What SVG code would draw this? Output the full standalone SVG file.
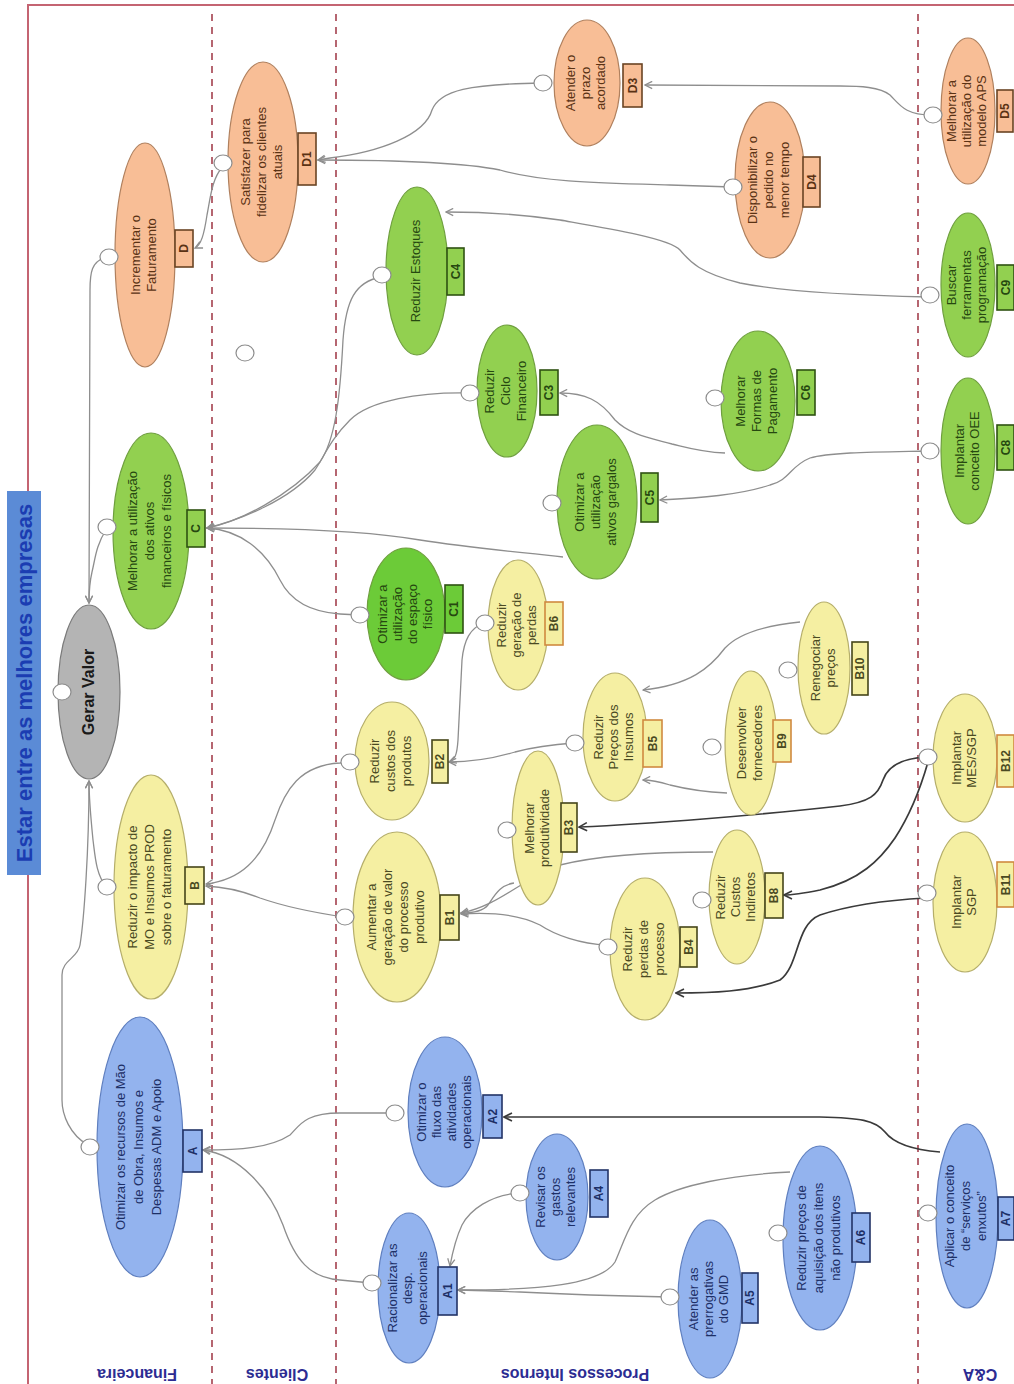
<svg xmlns="http://www.w3.org/2000/svg" width="1014" height="1384" viewBox="0 0 1014 1384">
<style>
  .frame{fill:none;stroke:#c46472;stroke-width:2}
  .lane{stroke:#a4404e;stroke-width:1.6;stroke-dasharray:7 6}
  .lanet{font-family:"Liberation Sans",Arial,sans-serif;font-size:16px;font-weight:bold;fill:#2c2c92;text-anchor:middle;dominant-baseline:central}
  .c{fill:none;stroke:#8e8e8e;stroke-width:1.3;marker-end:url(#ag)}
  .d{fill:none;stroke:#3a3a3a;stroke-width:1.7;marker-end:url(#ad)}
  .body{stroke-width:1.2}
  .tag{stroke-width:1.6}
  .port{fill:#fff;stroke:#8c8c8c;stroke-width:1.2}
  .t{font-family:"Liberation Sans",Arial,sans-serif;font-size:13px;text-anchor:middle;dominant-baseline:central}
  .k{font-size:12px;font-weight:bold}
  .fa .body{fill:#93b3ee;stroke:#5f7fbf}
  .fa .tag{fill:#93b3ee;stroke:#223366}
  .fa text{fill:#1d2f66}
  .fb .body{fill:#f5efa2;stroke:#b5ae6a}
  .fb .tag{fill:#f5efa2;stroke:#45451a}
  .fb text{fill:#4a4a22}
  .fc .body{fill:#92d050;stroke:#6f9f3f}
  .fc .tag{fill:#92d050;stroke:#2f5212}
  .fc text{fill:#264810}
  .fd .body{fill:#f8be96;stroke:#b0805e}
  .fd .tag{fill:#f8be96;stroke:#6a4424}
  .fd text{fill:#5a3214}
  .fg .body{fill:#b4b4b4;stroke:#7a7a7a}
  .fg text{fill:#1a1a1a;font-size:16px;font-weight:bold}
  .fb .tag.o{stroke:#d08a40}
  #n-C1 .body{fill:#6ccb38}
  #n-C1 .tag{fill:#6ccb38}
</style>
<defs>
  <marker id="ag" viewBox="0 0 10 10" refX="9" refY="5" markerWidth="9" markerHeight="9" markerUnits="userSpaceOnUse" orient="auto">
    <path d="M1,1 L9,5 L1,9" fill="none" stroke="#8e8e8e" stroke-width="1.4"/>
  </marker>
  <marker id="ad" viewBox="0 0 10 10" refX="9" refY="5" markerWidth="10" markerHeight="10" markerUnits="userSpaceOnUse" orient="auto">
    <path d="M1,1 L9,5 L1,9" fill="none" stroke="#3a3a3a" stroke-width="1.6"/>
  </marker>
</defs>

<rect width="1014" height="1384" fill="#fff"/>
<rect class="frame" x="28" y="5" width="1000" height="1400"/>

<!-- perspective lanes -->
<g id="lanes">
  <line class="lane" x1="212" y1="14" x2="212" y2="1384"/>
  <line class="lane" x1="336" y1="14" x2="336" y2="1384"/>
  <line class="lane" x1="918" y1="14" x2="918" y2="1384"/>
  <text class="lanet" x="137" y="1374" transform="rotate(180 137 1374)">Financeira</text>
  <text class="lanet" x="277" y="1374" transform="rotate(180 277 1374)">Clientes</text>
  <text class="lanet" x="575" y="1374" transform="rotate(180 575 1374)">Processos Internos</text>
  <text class="lanet" x="980" y="1374" transform="rotate(180 980 1374)">C&amp;A</text>
</g>

<!-- title banner -->
<g id="title">
  <rect x="7" y="491" width="34" height="384" fill="#5b8bd6"/>
  <text x="24" y="683" transform="rotate(-90 24 683)" font-family="'Liberation Sans',Arial,sans-serif" font-size="22" font-weight="bold" fill="#1b3db2" text-anchor="middle" dominant-baseline="central">Estar entre as melhores empresas</text>
</g>

<!-- cause-effect connectors -->
<g id="connectors">
  <path class="c" d="M104,258 C92,262 90,272 90,290 L89,603"/>
  <path class="c" d="M106,530 C96,545 95,560 92,572 C89,585 89,592 89,603"/>
  <path class="c" d="M106,886 C96,875 95,855 93,840 C90,810 89,795 89,781"/>
  <path class="c" d="M88,1145 C70,1135 62,1115 62,1100 L62,975 C62,960 78,958 80,945 C84,920 89,850 89,781"/>
  <path class="c" d="M222,168 C212,178 210,200 207,215 C204,235 201,245 195,248"/>
  <path class="c" d="M542,83 C470,84 440,90 432,110 C425,135 380,152 330,158 L318,160"/>
  <path class="c" d="M732,187 L670,185 C600,183 540,182 500,170 C460,162 380,160 318,160"/>
  <path class="c" d="M932,115 C905,115 900,105 890,95 C880,87 860,86 840,86 L645,85"/>
  <path class="c" d="M929,297 C880,296 790,293 740,283 C700,273 690,262 680,250 C670,238 600,227 560,220 C520,214 480,212 446,212"/>
  <path class="c" d="M381,277 C355,282 346,300 343,340 C340,400 335,440 320,462 C290,495 240,522 207,528"/>
  <path class="c" d="M469,393 C420,392 370,400 350,420 C330,440 325,455 315,470 C290,500 240,520 207,528"/>
  <path class="c" d="M563,557 C520,552 470,548 420,540 C380,533 320,528 207,528"/>
  <path class="c" d="M359,615 L340,614 C310,612 290,600 280,580 C265,550 240,530 207,528"/>
  <path class="c" d="M725,453 C700,452 685,447 672,444 C650,438 630,435 615,420 C600,400 585,393 560,393"/>
  <path class="c" d="M929,451 C880,452 830,452 810,458 C790,466 790,480 770,485 C740,495 700,498 660,500"/>
  <path class="c" d="M349,762 L340,763 C300,765 285,790 275,820 C262,860 240,880 206,884"/>
  <path class="c" d="M344,917 C310,912 280,905 260,898 C240,890 225,887 206,886"/>
  <path class="c" d="M484,623 C470,628 464,640 462,660 L458,740 C457,755 455,760 449,762"/>
  <path class="c" d="M574,743 C545,745 530,748 515,752 C495,758 470,762 449,762"/>
  <path class="c" d="M800,622 C770,625 740,632 725,648 C710,668 690,685 643,690"/>
  <path class="c" d="M727,793 C705,792 690,790 670,785 C660,782 650,780 643,780"/>
  <path class="c" d="M514,883 C500,885 495,895 488,905 C484,910 475,913 461,913"/>
  <path class="c" d="M713,852 C650,852 600,855 560,865 C520,880 500,905 461,913"/>
  <path class="c" d="M607,945 C580,944 555,935 540,925 C520,915 490,912 461,914"/>
  <path class="c" d="M394,1113 L340,1113 C305,1113 300,1125 290,1135 C270,1148 240,1150 203,1150"/>
  <path class="c" d="M371,1283 L340,1280 C310,1278 295,1260 283,1225 C270,1190 240,1155 203,1150"/>
  <path class="c" d="M519,1193 C490,1195 470,1210 462,1225 C455,1240 452,1255 450,1266"/>
  <path class="c" d="M669,1297 C620,1296 560,1294 520,1292 C490,1291 470,1290 458,1290"/>
  <path class="c" d="M790,1172 C730,1175 680,1185 655,1200 C630,1215 625,1240 615,1262 C600,1285 540,1290 458,1290"/>
  <path class="d" d="M927,757 C905,758 888,765 883,780 C878,795 870,802 840,806 C760,815 650,824 579,827"/>
  <path class="d" d="M928,762 C920,790 910,815 895,838 C880,860 860,880 820,890 C800,894 790,895 784,895"/>
  <path class="d" d="M926,898 C890,900 850,905 820,915 C795,925 800,965 780,980 C750,992 710,993 676,993"/>
  <path class="d" d="M940,1152 C915,1150 895,1145 885,1132 C875,1120 860,1118 820,1117 L504,1117"/>
</g>

<!-- unattached port -->
<ellipse class="port" cx="245" cy="353" rx="9" ry="8"/>

<!-- objectives -->
<g id="n-GV" class="fg">
  <ellipse class="body" cx="89" cy="692" rx="31" ry="87"/>
  <ellipse class="port" cx="62" cy="692" rx="9" ry="8"/>
  <text class="t" x="89" y="691" transform="rotate(-90 89 692)">Gerar Valor</text>
</g>

<g id="n-D" class="fd">
  <ellipse class="body" cx="145" cy="255" rx="30" ry="112"/>
  <ellipse class="port" cx="109" cy="257" rx="9" ry="8"/>
  <rect class="tag" x="175" y="230" width="18" height="37"/>
  <text class="t" x="145" y="253" transform="rotate(-90 145 255)"><tspan x="145" dy="-8">Incrementar o</tspan><tspan x="145" dy="16">Faturamento</tspan></text>
  <text class="t k" x="184" y="248.5" transform="rotate(-90 184 248.5)">D</text>
</g>

<g id="n-D1" class="fd">
  <ellipse class="body" cx="263" cy="162" rx="35" ry="100"/>
  <ellipse class="port" cx="223" cy="163" rx="9" ry="8"/>
  <rect class="tag" x="298" y="133" width="18" height="52"/>
  <text class="t" x="263" y="160" transform="rotate(-90 263 162)"><tspan x="263" dy="-16">Satisfazer para</tspan><tspan x="263" dy="16">fidelizar os clientes</tspan><tspan x="263" dy="16">atuais</tspan></text>
  <text class="t k" x="307" y="159" transform="rotate(-90 307 159)">D1</text>
</g>

<g id="n-D3" class="fd">
  <ellipse class="body" cx="587" cy="83" rx="33" ry="63"/>
  <ellipse class="port" cx="543" cy="83" rx="9" ry="8"/>
  <rect class="tag" x="623" y="64" width="19" height="43"/>
  <text class="t" x="587" y="81" transform="rotate(-90 587 83)"><tspan x="587" dy="-15">Atender o</tspan><tspan x="587" dy="15">prazo</tspan><tspan x="587" dy="15">acordado</tspan></text>
  <text class="t k" x="632.5" y="85.5" transform="rotate(-90 632.5 85.5)">D3</text>
</g>

<g id="n-D4" class="fd">
  <ellipse class="body" cx="770" cy="180" rx="35" ry="78"/>
  <ellipse class="port" cx="733" cy="187" rx="9" ry="8"/>
  <rect class="tag" x="803" y="157" width="17" height="50"/>
  <text class="t" x="770" y="178" transform="rotate(-90 770 180)"><tspan x="770" dy="-16">Disponibilizar o</tspan><tspan x="770" dy="16">pedido no</tspan><tspan x="770" dy="16">menor tempo</tspan></text>
  <text class="t k" x="811.5" y="182" transform="rotate(-90 811.5 182)">D4</text>
</g>

<g id="n-D5" class="fd">
  <ellipse class="body" cx="968" cy="111" rx="27" ry="73"/>
  <ellipse class="port" cx="933" cy="115" rx="9" ry="8"/>
  <rect class="tag" x="997" y="90" width="16" height="42"/>
  <text class="t" x="968" y="109" transform="rotate(-90 968 111)"><tspan x="968" dy="-15">Melhorar a</tspan><tspan x="968" dy="15">utilização do</tspan><tspan x="968" dy="15">modelo APS</tspan></text>
  <text class="t k" x="1005" y="111" transform="rotate(-90 1005 111)">D5</text>
</g>

<g id="n-C" class="fc">
  <ellipse class="body" cx="151" cy="531" rx="38" ry="98"/>
  <ellipse class="port" cx="107" cy="527" rx="9" ry="8"/>
  <rect class="tag" x="187" y="510" width="18" height="37"/>
  <text class="t" x="151" y="529" transform="rotate(-90 151 531)"><tspan x="151" dy="-17">Melhorar a utilização</tspan><tspan x="151" dy="17">dos ativos</tspan><tspan x="151" dy="17">financeiros e físicos</tspan></text>
  <text class="t k" x="196" y="528.5" transform="rotate(-90 196 528.5)">C</text>
</g>

<g id="n-C4" class="fc">
  <ellipse class="body" cx="417" cy="271" rx="31" ry="84"/>
  <ellipse class="port" cx="382" cy="275" rx="9" ry="8"/>
  <rect class="tag" x="447" y="248" width="17" height="47"/>
  <text class="t" x="417" y="269" transform="rotate(-90 417 271)">Reduzir Estoques</text>
  <text class="t k" x="455.5" y="271.5" transform="rotate(-90 455.5 271.5)">C4</text>
</g>

<g id="n-C3" class="fc">
  <ellipse class="body" cx="507" cy="391" rx="30" ry="66"/>
  <ellipse class="port" cx="470" cy="393" rx="9" ry="8"/>
  <rect class="tag" x="540" y="370" width="18" height="45"/>
  <text class="t" x="507" y="389" transform="rotate(-90 507 391)"><tspan x="507" dy="-16">Reduzir</tspan><tspan x="507" dy="16">Ciclo</tspan><tspan x="507" dy="16">Financeiro</tspan></text>
  <text class="t k" x="549" y="392.5" transform="rotate(-90 549 392.5)">C3</text>
</g>

<g id="n-C6" class="fc">
  <ellipse class="body" cx="758" cy="401" rx="37" ry="70"/>
  <ellipse class="port" cx="715" cy="398" rx="9" ry="8"/>
  <rect class="tag" x="797" y="370" width="18" height="45"/>
  <text class="t" x="758" y="399" transform="rotate(-90 758 401)"><tspan x="758" dy="-16">Melhorar</tspan><tspan x="758" dy="16">Formas de</tspan><tspan x="758" dy="16">Pagamento</tspan></text>
  <text class="t k" x="806" y="392.5" transform="rotate(-90 806 392.5)">C6</text>
</g>

<g id="n-C5" class="fc">
  <ellipse class="body" cx="597" cy="502" rx="40" ry="77"/>
  <ellipse class="port" cx="552" cy="503" rx="9" ry="8"/>
  <rect class="tag" x="641" y="473" width="17" height="49"/>
  <text class="t" x="597" y="500" transform="rotate(-90 597 502)"><tspan x="597" dy="-16">Otimizar a</tspan><tspan x="597" dy="16">utilização</tspan><tspan x="597" dy="16">ativos gargalos</tspan></text>
  <text class="t k" x="649.5" y="497.5" transform="rotate(-90 649.5 497.5)">C5</text>
</g>

<g id="n-C1" class="fc">
  <ellipse class="body" cx="406" cy="614" rx="39" ry="66"/>
  <ellipse class="port" cx="360" cy="615" rx="9" ry="8"/>
  <rect class="tag" x="445" y="585" width="18" height="48"/>
  <text class="t" x="406" y="612" transform="rotate(-90 406 614)"><tspan x="406" dy="-22.5">Otimizar a</tspan><tspan x="406" dy="15">utilização</tspan><tspan x="406" dy="15">do espaço</tspan><tspan x="406" dy="15">físico</tspan></text>
  <text class="t k" x="454" y="609" transform="rotate(-90 454 609)">C1</text>
</g>

<g id="n-C9" class="fc">
  <ellipse class="body" cx="968" cy="285" rx="27" ry="72"/>
  <ellipse class="port" cx="930" cy="295" rx="9" ry="8"/>
  <rect class="tag" x="997" y="265" width="17" height="45"/>
  <text class="t" x="968" y="283" transform="rotate(-90 968 285)"><tspan x="968" dy="-15">Buscar</tspan><tspan x="968" dy="15">ferramentas</tspan><tspan x="968" dy="15">programação</tspan></text>
  <text class="t k" x="1005.5" y="287.5" transform="rotate(-90 1005.5 287.5)">C9</text>
</g>

<g id="n-C8" class="fc">
  <ellipse class="body" cx="968" cy="451" rx="27" ry="73"/>
  <ellipse class="port" cx="930" cy="451" rx="9" ry="8"/>
  <rect class="tag" x="997" y="425" width="17" height="45"/>
  <text class="t" x="968" y="449" transform="rotate(-90 968 451)"><tspan x="968" dy="-7.5">Implantar</tspan><tspan x="968" dy="15">conceito OEE</tspan></text>
  <text class="t k" x="1005.5" y="447.5" transform="rotate(-90 1005.5 447.5)">C8</text>
</g>

<g id="n-B" class="fb">
  <ellipse class="body" cx="151" cy="887" rx="37" ry="112"/>
  <ellipse class="port" cx="107" cy="887" rx="9" ry="8"/>
  <rect class="tag" x="185" y="867" width="19" height="37"/>
  <text class="t" x="151" y="885" transform="rotate(-90 151 887)"><tspan x="151" dy="-17">Reduzir o impacto de</tspan><tspan x="151" dy="17">MO e Insumos PROD</tspan><tspan x="151" dy="17">sobre o faturamento</tspan></text>
  <text class="t k" x="194.5" y="885.5" transform="rotate(-90 194.5 885.5)">B</text>
</g>

<g id="n-B2" class="fb">
  <ellipse class="body" cx="392" cy="761" rx="37" ry="59"/>
  <ellipse class="port" cx="350" cy="762" rx="9" ry="8"/>
  <rect class="tag" x="432" y="740" width="16" height="43"/>
  <text class="t" x="392" y="759" transform="rotate(-90 392 761)"><tspan x="392" dy="-16">Reduzir</tspan><tspan x="392" dy="16">custos dos</tspan><tspan x="392" dy="16">produtos</tspan></text>
  <text class="t k" x="440" y="761.5" transform="rotate(-90 440 761.5)">B2</text>
</g>

<g id="n-B6" class="fb">
  <ellipse class="body" cx="518" cy="625" rx="30" ry="65"/>
  <ellipse class="port" cx="485" cy="623" rx="9" ry="8"/>
  <rect class="tag o" x="545" y="602" width="18" height="43"/>
  <text class="t" x="518" y="623" transform="rotate(-90 518 625)"><tspan x="518" dy="-15">Reduzir</tspan><tspan x="518" dy="15">geração de</tspan><tspan x="518" dy="15">perdas</tspan></text>
  <text class="t k" x="554" y="623.5" transform="rotate(-90 554 623.5)">B6</text>
</g>

<g id="n-B5" class="fb">
  <ellipse class="body" cx="615" cy="737" rx="32" ry="64"/>
  <ellipse class="port" cx="575" cy="743" rx="9" ry="8"/>
  <rect class="tag o" x="643" y="720" width="19" height="47"/>
  <text class="t" x="615" y="735" transform="rotate(-90 615 737)"><tspan x="615" dy="-15">Reduzir</tspan><tspan x="615" dy="15">Preços dos</tspan><tspan x="615" dy="15">Insumos</tspan></text>
  <text class="t k" x="652.5" y="743.5" transform="rotate(-90 652.5 743.5)">B5</text>
</g>

<g id="n-B3" class="fb">
  <ellipse class="body" cx="538" cy="828" rx="26" ry="77"/>
  <ellipse class="port" cx="507" cy="830" rx="9" ry="8"/>
  <rect class="tag" x="561" y="803" width="16" height="49"/>
  <text class="t" x="538" y="826" transform="rotate(-90 538 828)"><tspan x="538" dy="-7.5">Melhorar</tspan><tspan x="538" dy="15">produtividade</tspan></text>
  <text class="t k" x="569" y="827.5" transform="rotate(-90 569 827.5)">B3</text>
</g>

<g id="n-B1" class="fb">
  <ellipse class="body" cx="397" cy="917" rx="44" ry="85"/>
  <ellipse class="port" cx="345" cy="917" rx="9" ry="8"/>
  <rect class="tag" x="440" y="895" width="19" height="45"/>
  <text class="t" x="397" y="915" transform="rotate(-90 397 917)"><tspan x="397" dy="-24">Aumentar a</tspan><tspan x="397" dy="16">geração de valor</tspan><tspan x="397" dy="16">do processo</tspan><tspan x="397" dy="16">produtivo</tspan></text>
  <text class="t k" x="449.5" y="917.5" transform="rotate(-90 449.5 917.5)">B1</text>
</g>

<g id="n-B4" class="fb">
  <ellipse class="body" cx="645" cy="949" rx="35" ry="71"/>
  <ellipse class="port" cx="608" cy="947" rx="9" ry="8"/>
  <rect class="tag" x="680" y="927" width="17" height="40"/>
  <text class="t" x="645" y="947" transform="rotate(-90 645 949)"><tspan x="645" dy="-16">Reduzir</tspan><tspan x="645" dy="16">perdas de</tspan><tspan x="645" dy="16">processo</tspan></text>
  <text class="t k" x="688.5" y="947" transform="rotate(-90 688.5 947)">B4</text>
</g>

<g id="n-B8" class="fb">
  <ellipse class="body" cx="737" cy="897" rx="28" ry="67"/>
  <ellipse class="port" cx="702" cy="900" rx="9" ry="8"/>
  <rect class="tag" x="765" y="873" width="18" height="45"/>
  <text class="t" x="737" y="895" transform="rotate(-90 737 897)"><tspan x="737" dy="-15">Reduzir</tspan><tspan x="737" dy="15">Custos</tspan><tspan x="737" dy="15">Indiretos</tspan></text>
  <text class="t k" x="774" y="895.5" transform="rotate(-90 774 895.5)">B8</text>
</g>

<g id="n-B9" class="fb">
  <ellipse class="body" cx="751" cy="743" rx="26" ry="72"/>
  <ellipse class="port" cx="712" cy="747" rx="9" ry="8"/>
  <rect class="tag o" x="773" y="720" width="18" height="42"/>
  <text class="t" x="751" y="741" transform="rotate(-90 751 743)"><tspan x="751" dy="-8">Desenvolver</tspan><tspan x="751" dy="16">fornecedores</tspan></text>
  <text class="t k" x="782" y="741" transform="rotate(-90 782 741)">B9</text>
</g>

<g id="n-B10" class="fb">
  <ellipse class="body" cx="824" cy="668" rx="26" ry="66"/>
  <ellipse class="port" cx="788" cy="670" rx="9" ry="8"/>
  <rect class="tag" x="852" y="642" width="16" height="53"/>
  <text class="t" x="824" y="666" transform="rotate(-90 824 668)"><tspan x="824" dy="-7.5">Renegociar</tspan><tspan x="824" dy="15">preços</tspan></text>
  <text class="t k" x="860" y="668.5" transform="rotate(-90 860 668.5)">B10</text>
</g>

<g id="n-B12" class="fb">
  <ellipse class="body" cx="965" cy="758" rx="32" ry="64"/>
  <ellipse class="port" cx="928" cy="757" rx="9" ry="8"/>
  <rect class="tag o" x="997" y="735" width="17" height="52"/>
  <text class="t" x="965" y="756" transform="rotate(-90 965 758)"><tspan x="965" dy="-7.5">Implantar</tspan><tspan x="965" dy="15">MES/SGP</tspan></text>
  <text class="t k" x="1005.5" y="761" transform="rotate(-90 1005.5 761)">B12</text>
</g>

<g id="n-B11" class="fb">
  <ellipse class="body" cx="965" cy="902" rx="32" ry="70"/>
  <ellipse class="port" cx="927" cy="893" rx="9" ry="8"/>
  <rect class="tag o" x="997" y="862" width="17" height="45"/>
  <text class="t" x="965" y="900" transform="rotate(-90 965 902)"><tspan x="965" dy="-7.5">Implantar</tspan><tspan x="965" dy="15">SGP</tspan></text>
  <text class="t k" x="1005.5" y="884.5" transform="rotate(-90 1005.5 884.5)">B11</text>
</g>

<g id="n-A" class="fa">
  <ellipse class="body" cx="140" cy="1147" rx="43" ry="130"/>
  <ellipse class="port" cx="90" cy="1147" rx="9" ry="8"/>
  <rect class="tag" x="183" y="1130" width="19" height="42"/>
  <text class="t" x="140" y="1145" transform="rotate(-90 140 1147)"><tspan x="140" dy="-18">Otimizar os recursos de Mão</tspan><tspan x="140" dy="18">de Obra, Insumos e</tspan><tspan x="140" dy="18">Despesas ADM e Apoio</tspan></text>
  <text class="t k" x="192.5" y="1151" transform="rotate(-90 192.5 1151)">A</text>
</g>

<g id="n-A2" class="fa">
  <ellipse class="body" cx="445" cy="1112" rx="37" ry="75"/>
  <ellipse class="port" cx="395" cy="1113" rx="9" ry="8"/>
  <rect class="tag" x="483" y="1095" width="19" height="43"/>
  <text class="t" x="445" y="1110" transform="rotate(-90 445 1112)"><tspan x="445" dy="-22.5">Otimizar o</tspan><tspan x="445" dy="15">fluxo das</tspan><tspan x="445" dy="15">atividades</tspan><tspan x="445" dy="15">operacionais</tspan></text>
  <text class="t k" x="492.5" y="1116.5" transform="rotate(-90 492.5 1116.5)">A2</text>
</g>

<g id="n-A4" class="fa">
  <ellipse class="body" cx="557" cy="1197" rx="31" ry="63"/>
  <ellipse class="port" cx="520" cy="1193" rx="9" ry="8"/>
  <rect class="tag" x="590" y="1170" width="18" height="47"/>
  <text class="t" x="557" y="1195" transform="rotate(-90 557 1197)"><tspan x="557" dy="-15">Revisar os</tspan><tspan x="557" dy="15">gastos</tspan><tspan x="557" dy="15">relevantes</tspan></text>
  <text class="t k" x="599" y="1193.5" transform="rotate(-90 599 1193.5)">A4</text>
</g>

<g id="n-A1" class="fa">
  <ellipse class="body" cx="409" cy="1288" rx="31" ry="75"/>
  <ellipse class="port" cx="372" cy="1283" rx="9" ry="8"/>
  <rect class="tag" x="438" y="1267" width="19" height="48"/>
  <text class="t" x="409" y="1286" transform="rotate(-90 409 1288)"><tspan x="409" dy="-15">Racionalizar as</tspan><tspan x="409" dy="15">desp.</tspan><tspan x="409" dy="15">operacionais</tspan></text>
  <text class="t k" x="447.5" y="1291" transform="rotate(-90 447.5 1291)">A1</text>
</g>

<g id="n-A5" class="fa">
  <ellipse class="body" cx="710" cy="1299" rx="32" ry="79"/>
  <ellipse class="port" cx="670" cy="1297" rx="9" ry="8"/>
  <rect class="tag" x="742" y="1273" width="16" height="50"/>
  <text class="t" x="710" y="1297" transform="rotate(-90 710 1299)"><tspan x="710" dy="-15">Atender as</tspan><tspan x="710" dy="15">prerrogativas</tspan><tspan x="710" dy="15">do GMD</tspan></text>
  <text class="t k" x="750" y="1298" transform="rotate(-90 750 1298)">A5</text>
</g>

<g id="n-A6" class="fa">
  <ellipse class="body" cx="820" cy="1238" rx="37" ry="92"/>
  <ellipse class="port" cx="778" cy="1233" rx="9" ry="8"/>
  <rect class="tag" x="852" y="1213" width="18" height="49"/>
  <text class="t" x="820" y="1236" transform="rotate(-90 820 1238)"><tspan x="820" dy="-17">Reduzir preços de</tspan><tspan x="820" dy="17">aquisição dos itens</tspan><tspan x="820" dy="17">não produtivos</tspan></text>
  <text class="t k" x="861" y="1237.5" transform="rotate(-90 861 1237.5)">A6</text>
</g>

<g id="n-A7" class="fa">
  <ellipse class="body" cx="967" cy="1216" rx="31" ry="92"/>
  <ellipse class="port" cx="928" cy="1213" rx="9" ry="8"/>
  <rect class="tag" x="998" y="1197" width="16" height="43"/>
  <text class="t" x="967" y="1214" transform="rotate(-90 967 1216)"><tspan x="967" dy="-16">Aplicar  o conceito</tspan><tspan x="967" dy="16">de “serviços</tspan><tspan x="967" dy="16">enxutos”</tspan></text>
  <text class="t k" x="1006" y="1218.5" transform="rotate(-90 1006 1218.5)">A7</text>
</g>
</svg>
